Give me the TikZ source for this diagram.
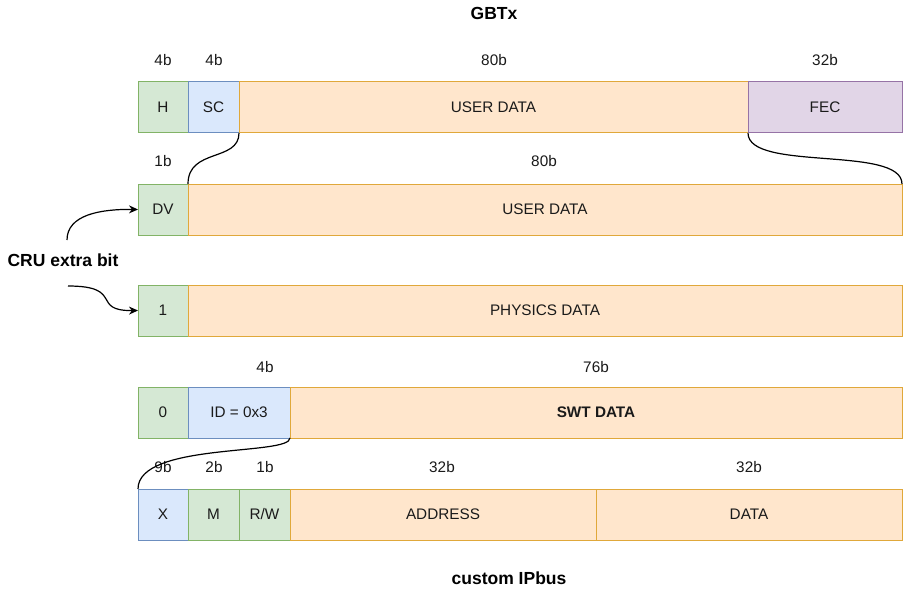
\documentclass[tikz,border=0pt]{standalone}
\usepackage{fontspec}
\setmainfont{Liberation Sans}
\usetikzlibrary{arrows.meta}
\definecolor{gfill}{HTML}{D5E8D4}\definecolor{gline}{HTML}{82B366}
\definecolor{bfill}{HTML}{DAE8FC}\definecolor{bline}{HTML}{6C8EBF}
\definecolor{ofill}{HTML}{FFE6CC}\definecolor{oline}{HTML}{E0A83A}
\definecolor{pfill}{HTML}{E1D5E7}\definecolor{pline}{HTML}{9673A6}
\definecolor{txt}{HTML}{1A1A1A}
\tikzset{
  fld/.style={rectangle, anchor=north west, minimum height=51pt, inner sep=0pt, outer sep=0pt,
    line width=1pt, font=\fontsize{15.3}{17}\selectfont, text=txt},
  gf/.style={fld, fill=gfill, draw=gline},
  bf/.style={fld, fill=bfill, draw=bline},
  of/.style={fld, fill=ofill, draw=oline},
  pf/.style={fld, fill=pfill, draw=pline},
  lbl/.style={font=\fontsize{15.3}{17}\selectfont, text=txt, inner sep=0pt},
  ttl/.style={font=\fontsize{17.5}{20}\selectfont\bfseries, text=black, inner sep=0pt},
  conn/.style={line width=1.2pt, black},
  arr/.style={conn, -{Stealth[length=9pt,width=8pt]}}
}
\begin{document}
\begin{tikzpicture}[x=1pt,y=-1pt]
\useasboundingbox[fill=white] (0,0) rectangle (907,591);
% titles
\node[ttl] (gbtx) at (494,13) {GBTx};
\node[ttl] (ipbus) at (509,578) {custom IPbus};
\node[ttl] (cru) at (63,260) {CRU extra bit};
% row 1
\node[gf, minimum width=50pt] (h) at (138,82) {H};
\node[bf, minimum width=51pt] (sc) at (188,82) {SC};
\node[of, minimum width=509pt] (ud1) at (239,82) {USER DATA};
\node[pf, minimum width=154pt] (fec) at (748,82) {FEC};
\node[lbl] at (163,60) {4b};
\node[lbl] at (214,60) {4b};
\node[lbl] at (494,60) {80b};
\node[lbl] at (825,60) {32b};
% row 2
\node[gf, minimum width=50pt] (dv) at (138,184) {DV};
\node[of, minimum width=714pt] (ud2) at (188,184) {USER DATA};
\node[lbl] at (163,161) {1b};
\node[lbl] at (544,161) {80b};
% row 3
\node[gf, minimum width=50pt] (one) at (138,285) {1};
\node[of, minimum width=714pt] (phys) at (188,285) {PHYSICS DATA};
% row 4
\node[gf, minimum width=50pt] (zero) at (138,387) {0};
\node[bf, minimum width=102pt] (id) at (188,387) {ID = 0x3};
\node[of, minimum width=612pt, font=\fontsize{15.3}{17}\selectfont\bfseries] (swt) at (290,387) {SWT DATA};
\node[lbl] at (265,367) {4b};
\node[lbl] at (596,367) {76b};
% row 5
\node[bf, minimum width=50pt] (x) at (138,489) {X};
\node[gf, minimum width=51pt] (m) at (188,489) {M};
\node[gf, minimum width=51pt] (rw) at (239,489) {R/W};
\node[of, minimum width=306pt] (addr) at (290,489) {ADDRESS};
\node[of, minimum width=306pt] (data) at (596,489) {DATA};
\node[lbl] at (163,467) {9b};
\node[lbl] at (214,467) {2b};
\node[lbl] at (265,467) {1b};
\node[lbl] at (442,467) {32b};
\node[lbl] at (749,467) {32b};
% connectors
\draw[conn] (sc.south east) .. controls (239,162) and (188,148) .. (dv.north east);
\draw[conn] (fec.south west) .. controls (748,172) and (902,145) .. (ud2.north east);
\draw[conn] (id.south east) .. controls (290,456) and (138,442) .. (x.north west);
\coordinate (c1) at (67,240);
\coordinate (c2) at (68,286);
\draw[arr] (c1) .. controls (67,215) and (100,209) .. (dv.west);
\draw[arr] (c2) .. controls (125,286) and (90,311) .. (one.west);
\end{tikzpicture}
\end{document}
